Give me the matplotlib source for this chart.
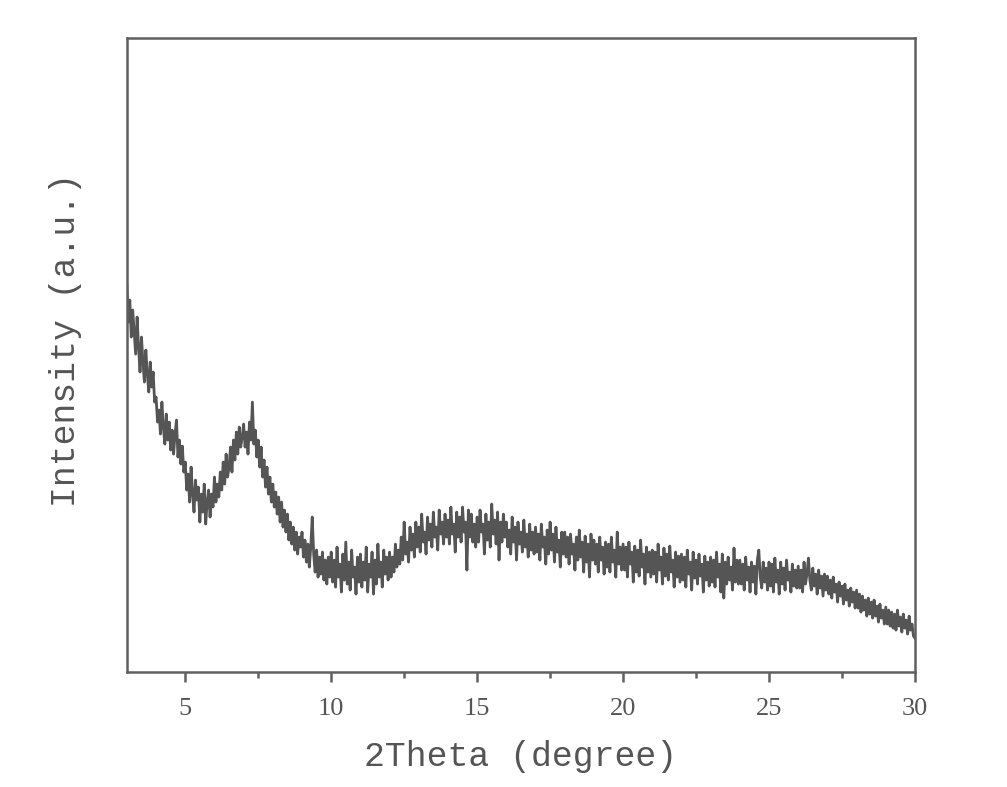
import numpy as np
import matplotlib
matplotlib.use('Agg')
import matplotlib.pyplot as plt
from matplotlib.ticker import MultipleLocator

# intensity (a.u.), 20 readings per degree of 2theta (3.00 ... 30.00)
intensity = [
    387, 350, 372, 335, 362, 340, 318, 355, 325, 300, 335, 310, 290, 322, 298, 280, 310, 285, 300, 270,   # 3
    275, 250, 262, 238, 270, 245, 228, 258, 232, 250, 222, 242, 218, 238, 252, 215, 232, 208, 226, 200,   # 4
    210, 182, 198, 170, 205, 178, 160, 192, 172, 185, 150, 178, 160, 188, 148, 170, 182, 155, 178, 165,   # 5
    195, 170, 188, 175, 200, 182, 210, 188, 218, 195, 205, 225, 200, 232, 212, 240, 218, 245, 225, 235,   # 6
    248, 225, 240, 218, 250, 232, 270, 228, 242, 215, 232, 205, 225, 195, 212, 185, 205, 178, 195, 170,   # 7
    188, 165, 180, 158, 175, 150, 170, 145, 162, 140, 158, 132, 150, 128, 145, 122, 140, 118, 135, 125,   # 8
    140, 115, 132, 110, 128, 105, 125, 155, 118, 100, 122, 95, 115, 98, 120, 92, 112, 88, 115, 95,        # 9
    120, 90, 112, 85, 125, 95, 108, 80, 118, 92, 130, 88, 110, 82, 122, 95, 105, 78, 115, 90,            # 10
    118, 85, 110, 92, 125, 80, 108, 95, 120, 78, 112, 88, 128, 95, 110, 85, 122, 98, 115, 92,            # 11
    120, 95, 115, 100, 128, 105, 122, 108, 135, 112, 150, 118, 130, 110, 145, 122, 138, 115, 150, 125,   # 12
    145, 120, 158, 130, 140, 118, 155, 132, 148, 125, 160, 135, 145, 122, 162, 138, 150, 128, 158, 135,  # 13
    152, 128, 165, 138, 148, 120, 160, 135, 155, 130, 165, 140, 150, 102, 162, 135, 158, 130, 148, 125,  # 14
    155, 130, 162, 140, 148, 118, 158, 132, 150, 125, 168, 138, 152, 128, 160, 112, 150, 130, 158, 135,  # 15
    150, 125, 142, 118, 155, 130, 145, 112, 150, 128, 140, 120, 152, 125, 138, 115, 148, 122, 140, 118,  # 16
    145, 120, 138, 112, 148, 125, 135, 108, 142, 118, 150, 122, 138, 110, 145, 120, 132, 105, 140, 118,  # 17
    140, 115, 135, 108, 138, 118, 128, 102, 135, 112, 142, 115, 130, 100, 136, 110, 128, 95, 138, 112,   # 18
    132, 108, 128, 100, 135, 112, 125, 98, 130, 105, 128, 100, 135, 110, 122, 95, 140, 108, 125, 102,    # 19
    128, 102, 125, 95, 130, 108, 120, 90, 126, 100, 122, 96, 132, 105, 118, 88, 125, 100, 120, 95,       # 20
    122, 98, 120, 90, 128, 102, 115, 88, 124, 96, 118, 92, 126, 100, 112, 85, 120, 95, 116, 90,          # 21
    118, 92, 115, 85, 122, 98, 110, 82, 120, 94, 112, 88, 118, 96, 108, 80, 116, 92, 110, 86,            # 22
    115, 90, 112, 85, 120, 95, 108, 80, 118, 74, 110, 88, 115, 92, 105, 82, 124, 90, 112, 88,            # 23
    112, 88, 108, 82, 115, 92, 105, 80, 110, 90, 106, 78, 112, 122, 95, 84, 110, 90, 104, 82,            # 24
    110, 86, 108, 80, 114, 90, 102, 78, 110, 88, 104, 82, 112, 92, 100, 80, 108, 86, 102, 84,            # 25
    106, 84, 102, 80, 110, 88, 98, 114, 92, 82, 104, 86, 98, 78, 102, 84, 96, 76, 98, 82,                # 26
    96, 78, 92, 74, 95, 80, 88, 70, 90, 76, 86, 68, 88, 72, 82, 66, 84, 70, 80, 64,                      # 27
    82, 64, 78, 60, 76, 62, 72, 56, 74, 58, 70, 54, 72, 56, 66, 50, 68, 54, 62, 48,                      # 28
    65, 48, 62, 46, 60, 44, 58, 42, 62, 46, 55, 40, 58, 44, 52, 38, 56, 42, 48, 36,                      # 29
    34,                                                                                                  # 30
]
two_theta = np.linspace(3.0, 30.0, len(intensity))

fig = plt.figure(figsize=(10.07, 7.87), dpi=100)
ax = fig.add_axes([0.126, 0.146, 0.7826, 0.8057])

ax.plot(two_theta, intensity, color='#555555', lw=2.0)

ax.set_xlim(3, 30)
ax.set_ylim(0, 634)

axis_col = '#606060'
for sp in ax.spines.values():
    sp.set_color(axis_col)
    sp.set_linewidth(1.8)

ax.xaxis.set_major_locator(MultipleLocator(5))
ax.xaxis.set_minor_locator(MultipleLocator(2.5))
ax.tick_params(axis='x', which='major', direction='out', length=7, width=1.8,
               color=axis_col, labelcolor='#555555', labelsize=19, pad=12)
ax.tick_params(axis='x', which='minor', direction='out', length=4, width=1.8, color=axis_col)
ax.set_yticks([])
for lab in ax.get_xticklabels():
    lab.set_family('Liberation Serif')

ax.set_xlabel('2Theta (degree)', family='Liberation Mono', fontsize=25,
              color='#555555', labelpad=14)
ax.set_ylabel('Intensity (a.u.)', family='Liberation Mono', fontsize=25,
              color='#555555')
ax.yaxis.set_label_coords(-0.057, 0.524)

plt.savefig('out.png', dpi=100)
